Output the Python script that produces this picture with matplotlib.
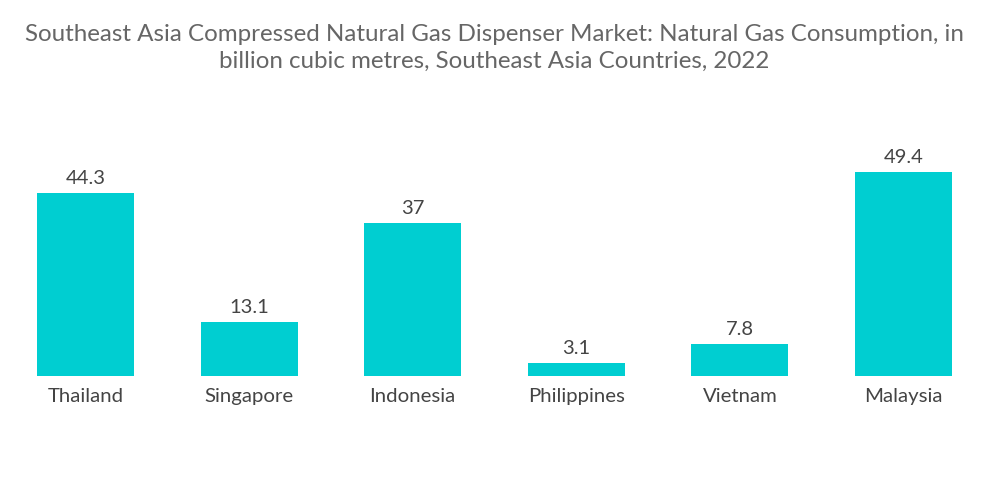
import matplotlib.pyplot as plt

# data
countries = ['Thailand', 'Singapore', 'Indonesia', 'Philippines', 'Vietnam', 'Malaysia']
consumption = [44.3, 13.1, 37, 3.1, 7.8, 49.4]
value_labels = ['44.3', '13.1', '37', '3.1', '7.8', '49.4']

plt.rcParams['font.family'] = ['Lato', 'DejaVu Sans']

fig = plt.figure(figsize=(10, 5.04), dpi=100)
ax = fig.add_axes([0.0037, 0.254, 0.9816, 0.492])

x = range(len(countries))
bars = ax.bar(x, consumption, width=0.593, color='#00CED1')

for b, lab in zip(bars, value_labels):
    ax.text(b.get_x() + b.get_width() / 2, b.get_height() + 1.5, lab,
            ha='center', va='bottom', fontsize=14.5, color='#444444')

ax.set_xlim(-0.5, 5.5)
ax.set_ylim(0, 60)
ax.set_xticks(list(x))
ax.set_xticklabels(countries, fontsize=14.7, color='#444444')
ax.tick_params(axis='x', length=0, pad=9)
ax.set_yticks([])
for s in ax.spines.values():
    s.set_visible(False)

fig.text(0.494, 0.953,
         'Southeast Asia Compressed Natural Gas Dispenser Market: Natural Gas Consumption, in\n'
         'billion cubic metres, Southeast Asia Countries, 2022',
         ha='center', va='top', fontsize=17.4, color='#666666', linespacing=1.38)

fig.savefig('out.png', dpi=100)
